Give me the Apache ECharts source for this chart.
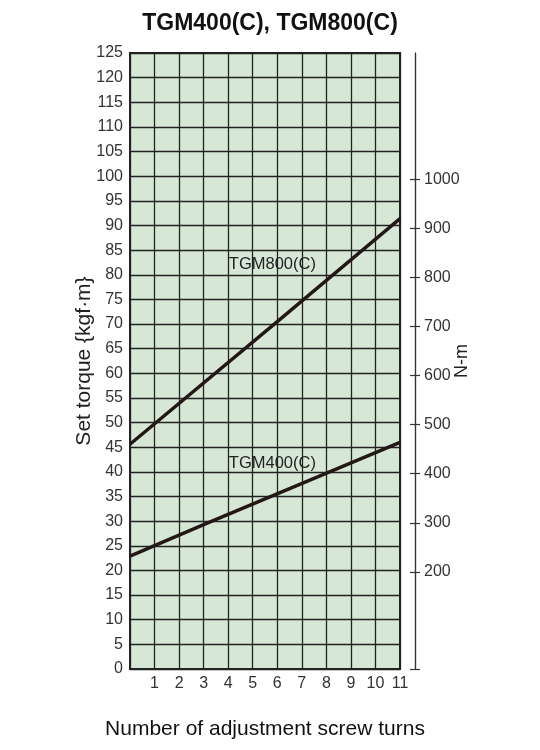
<!DOCTYPE html>
<html>
<head>
<meta charset="utf-8">
<script src="https://cdn.jsdelivr.net/npm/echarts@6/dist/echarts.min.js"></script>
<style>
html,body{margin:0;padding:0;background:#fff;}
#chart{width:540px;height:750px;}
</style>
</head>
<body>
<div id="chart"></div>
<script>
// Data
var titleText = 'TGM400(C), TGM800(C)';
var xName = 'Number of adjustment screw turns';
var yName = 'Set torque {kgf\u00b7m}';
var y2Name = 'N-m';
var tgm800 = [[0, 45.6], [6, 70.5], [11, 91.4]];
var tgm400 = [[0, 22.9], [3, 29.3], [11, 46.0]];
var nmTicks = [200, 300, 400, 500, 600, 700, 800, 900, 1000];
var nmMin = 2.2, nmMax = 1257.2;
var label800 = {name: 'TGM800(C)', at: [5.8, 82.0]};
var label400 = {name: 'TGM400(C)', at: [5.8, 41.8]};

var narrow = '"Liberation Sans Narrow", "Liberation Sans", Arial, sans-serif';
var sans = '"Liberation Sans", Arial, Helvetica, sans-serif';
var lineColor = '#231815';

var chart = echarts.init(document.getElementById('chart'), null, {renderer: 'canvas'});

function rightAxis(inside, withLabels) {
  return {
    type: 'value', position: 'right', offset: 15,
    min: nmMin, max: nmMax,
    name: withLabels ? y2Name : '',
    nameLocation: 'middle', nameGap: 38, nameRotate: 90, nameMoveOverlap: false,
    nameTextStyle: {fontFamily: sans, fontSize: 18, color: '#222'},
    axisLine: {show: true, lineStyle: {color: '#333', width: 1.2}},
    axisTick: {show: true, inside: inside, length: 5, lineStyle: {color: '#333', width: 1.2},
      customValues: [nmMin].concat(nmTicks)},
    axisLabel: {show: withLabels, margin: 9, fontFamily: narrow, fontSize: 16, color: '#333',
      customValues: nmTicks, formatter: function (v) { return String(Math.round(v)); }},
    splitLine: {show: false}
  };
}

chart.setOption({
  animation: false,
  backgroundColor: '#fff',
  title: {
    text: titleText, left: 'center', top: 7,
    textStyle: {fontFamily: sans, fontWeight: 'bold', fontSize: 23, color: '#111'}
  },
  grid: {
    left: 130, right: 140, top: 53, bottom: 81,
    show: true, backgroundColor: '#d6e8d5', borderColor: '#222', borderWidth: 2
  },
  xAxis: {
    type: 'value', min: 0, max: 11, interval: 1,
    name: xName, nameLocation: 'middle', nameGap: 50,
    nameTextStyle: {fontFamily: sans, fontSize: 21, color: '#111', fontWeight: 500},
    axisLine: {show: true, lineStyle: {color: '#222', width: 2}},
    axisTick: {show: false},
    axisLabel: {margin: 7, fontFamily: narrow, fontSize: 16, color: '#333',
      formatter: function (v) { return v === 0 ? '' : String(v); }},
    splitLine: {show: true, lineStyle: {color: '#222', width: 1.3}}
  },
  yAxis: [
    {
      type: 'value', min: 0, max: 125, interval: 5,
      name: yName, nameLocation: 'middle', nameGap: 35, nameRotate: 90, nameMoveOverlap: false,
      nameTextStyle: {fontFamily: sans, fontSize: 21, color: '#222'},
      axisLine: {show: true, lineStyle: {color: '#222', width: 2}},
      axisTick: {show: false},
      axisLabel: {margin: 7, fontFamily: narrow, fontSize: 16, color: '#333'},
      splitLine: {show: true, lineStyle: {color: '#222', width: 1.3}}
    },
    rightAxis(false, true),
    rightAxis(true, false)
  ],
  series: [
    {
      name: 'TGM800(C)', type: 'line', data: tgm800, showSymbol: false, symbol: 'none',
      lineStyle: {color: lineColor, width: 3.4},
      markPoint: {
        symbol: 'rect', symbolSize: 1, itemStyle: {color: 'rgba(0,0,0,0)'},
        label: {show: true, position: 'inside', formatter: label800.name,
          fontFamily: sans, fontSize: 16.5, color: '#222'},
        data: [{coord: label800.at}]
      }
    },
    {
      name: 'TGM400(C)', type: 'line', data: tgm400, showSymbol: false, symbol: 'none',
      lineStyle: {color: lineColor, width: 3.4},
      markPoint: {
        symbol: 'rect', symbolSize: 1, itemStyle: {color: 'rgba(0,0,0,0)'},
        label: {show: true, position: 'inside', formatter: label400.name,
          fontFamily: sans, fontSize: 16.5, color: '#222'},
        data: [{coord: label400.at}]
      }
    }
  ]
});
</script>
</body>
</html>
